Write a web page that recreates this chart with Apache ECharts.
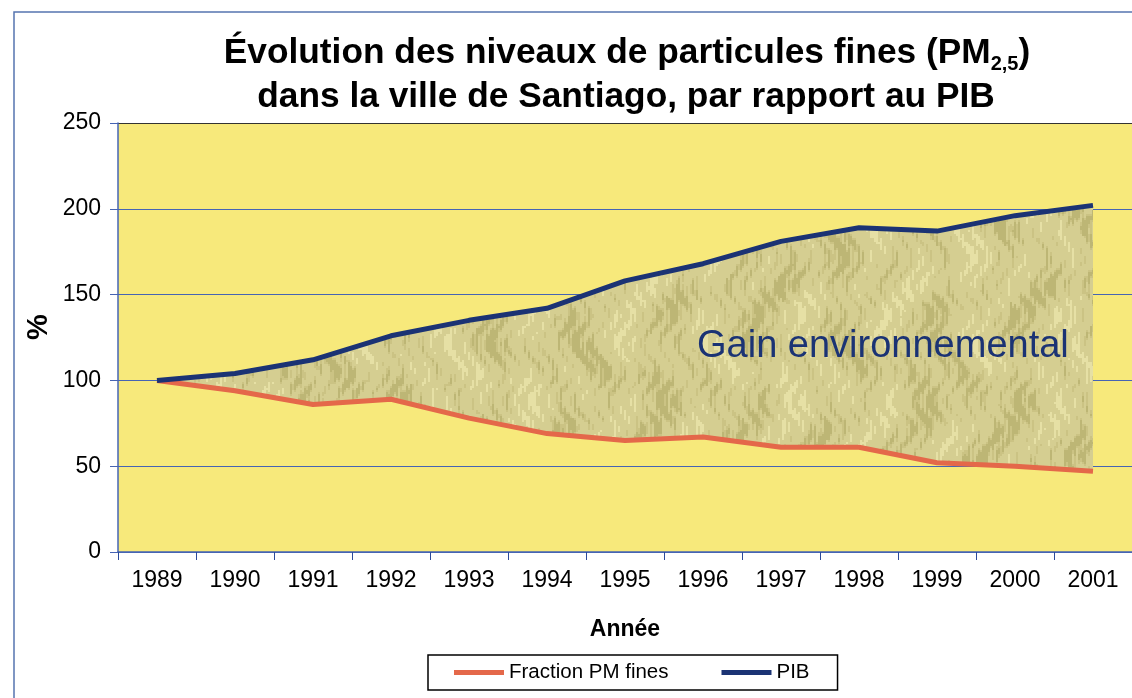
<!DOCTYPE html>
<html>
<head>
<meta charset="utf-8">
<script src="https://cdn.jsdelivr.net/npm/echarts@6/dist/echarts.min.js"></script>
<style>
html,body{margin:0;padding:0;background:#fff;}
#c{width:1132px;height:698px;}
</style>
</head>
<body>
<div id="c"></div>
<script>
var years = ['1989','1990','1991','1992','1993','1994','1995','1996','1997','1998','1999','2000','2001'];
var pmFines = [100, 94, 86, 89, 78, 69, 65, 67, 61, 61, 52, 50, 47];
var pib = [100, 104, 112, 126, 135, 142, 158, 168, 181, 189, 187, 196, 202];
var yTicks = [0, 50, 100, 150, 200, 250];

var band = pib.map(function (v, i) { return v - pmFines[i]; });

// decorative mottled texture for the "gain" band (one large tile, no visible seams)
function makeTexture() {
  var W = 1140, H = 700;
  var c = document.createElement('canvas');
  c.width = W; c.height = H;
  var g = c.getContext('2d');
  g.fillStyle = '#d5ce91';
  g.fillRect(0, 0, W, H);
  for (var x = 0; x < W; x += 2) {
    for (var y = 0; y < H; y += 2) {
      var v = Math.sin(x * 0.071 + Math.sin(y * 0.043) * 1.7) * Math.cos(y * 0.029 + Math.sin(x * 0.05))
            + 0.5 * Math.sin(x * 0.37 + Math.cos(y * 0.11) * 3)
            + 0.35 * Math.sin(x * 1.3 + y * 0.07);
      if (v > 0.75) { g.fillStyle = 'rgba(140,130,60,0.32)'; g.fillRect(x, y, 2, 2); }
      else if (v > 0.45) { g.fillStyle = 'rgba(160,150,80,0.18)'; g.fillRect(x, y, 2, 2); }
      else if (v < -0.95) { g.fillStyle = 'rgba(248,242,185,0.5)'; g.fillRect(x, y, 2, 2); }
    }
  }
  return c;
}

var chart = echarts.init(document.getElementById('c'));
var navy = '#1b3374';
var orange = '#e4684a';
var gridBlue = '#4664b4';
var FF = 'Liberation Sans, Arial, sans-serif';

chart.setOption({
  animation: false,
  title: [
    {
      text: '{t|Évolution des niveaux de particules fines (PM}{s|2,5}{t|)}',
      left: 622, top: 27, textAlign: 'center',
      textStyle: {
        rich: {
          t: { fontFamily: FF, fontWeight: 'bold', fontSize: 35.3, color: '#000', lineHeight: 42 },
          s: { fontFamily: FF, fontWeight: 'bold', fontSize: 20, color: '#000', lineHeight: 20, padding: [24, 0, 0, 0], verticalAlign: 'bottom' }
        }
      }
    },
    {
      text: 'dans la ville de Santiago, par rapport au PIB',
      left: 621, top: 71, textAlign: 'center',
      textStyle: { fontFamily: FF, fontWeight: 'bold', fontSize: 35.3, color: '#000', lineHeight: 42 }
    }
  ],
  graphic: [
    { type: 'rect', shape: { x: 14, y: 12, width: 1200, height: 800 }, style: { fill: 'none', stroke: '#5674b0', lineWidth: 1.5 }, z: -10 },
    { type: 'text', x: 697, y: 347, style: { text: 'Gain environnemental', fill: navy, font: '38px "Liberation Sans", Arial, sans-serif', verticalAlign: 'middle' }, z: 100 },
    { type: 'text', x: 39, y: 327, rotation: Math.PI / 2, style: { text: '%', fill: '#000', font: 'bold 29px "Liberation Sans", Arial, sans-serif', align: 'center', verticalAlign: 'middle' }, z: 100 }
  ],
  legend: {
    left: 428, top: 655,
    data: [
      { name: 'Fraction PM fines', icon: 'rect' },
      { name: 'PIB', icon: 'rect' }
    ],
    itemWidth: 50, itemHeight: 5, itemGap: 53,
    borderColor: '#000', borderWidth: 1.5, padding: [7, 28, 7, 26],
    textStyle: { fontFamily: FF, fontSize: 20.5, color: '#000' }
  },
  grid: { left: 118, top: 123, width: 1018, height: 429, backgroundColor: '#f7e97b', show: true, borderWidth: 0 },
  xAxis: {
    type: 'category', data: years, boundaryGap: true,
    name: 'Année', nameLocation: 'middle', nameGap: 66,
    nameTextStyle: { fontFamily: FF, fontWeight: 'bold', fontSize: 23, color: '#000' },
    axisLine: { lineStyle: { color: gridBlue, width: 1.5 } },
    axisTick: { show: true, alignWithLabel: false, interval: 0, length: 8, lineStyle: { color: '#2b4a9a' } },
    axisLabel: { interval: 0, margin: 17, fontFamily: FF, fontSize: 23, color: '#000' }
  },
  yAxis: {
    type: 'value', min: 0, max: 250, interval: 50,
    axisLine: { show: true, lineStyle: { color: gridBlue, width: 1.5 } },
    axisTick: { show: true, length: 8, lineStyle: { color: gridBlue } },
    axisLabel: { margin: 17, fontFamily: FF, fontSize: 23, color: '#000',
      formatter: function (v) { return yTicks.indexOf(v) >= 0 ? String(v) : ''; } },
    splitLine: { show: true, lineStyle: { color: [gridBlue, gridBlue, gridBlue, gridBlue, gridBlue, '#333'], width: 1 } }
  },
  series: [
    { name: 'base', type: 'line', stack: 'g', data: pmFines, symbol: 'none', lineStyle: { opacity: 0 }, silent: true, z: 1 },
    { name: 'gain', type: 'line', stack: 'g', data: band, symbol: 'none', lineStyle: { opacity: 0 },
      areaStyle: { color: { image: makeTexture(), repeat: 'repeat' }, opacity: 1 }, silent: true, z: 1 },
    { name: 'Fraction PM fines', type: 'line', data: pmFines, symbol: 'none', color: orange, lineStyle: { color: orange, width: 5 }, z: 5 },
    { name: 'PIB', type: 'line', data: pib, symbol: 'none', color: navy, lineStyle: { color: navy, width: 5 }, z: 6 }
  ]
});
</script>
</body>
</html>
